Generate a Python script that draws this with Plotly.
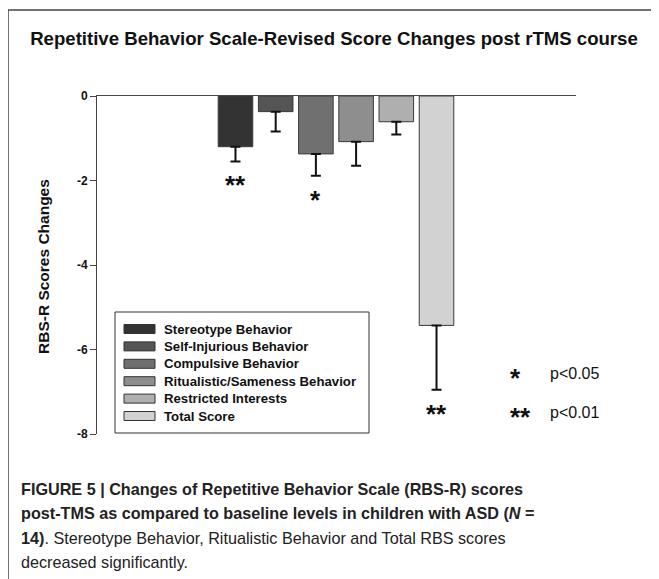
import plotly.graph_objects as go

# ---- data ----
categories = ["Stereotype Behavior", "Self-Injurious Behavior", "Compulsive Behavior",
              "Ritualistic/Sameness Behavior", "Restricted Interests", "Total Score"]
mean_change = [-1.20, -0.37, -1.37, -1.08, -0.61, -5.43]
sem = [0.35, 0.47, 0.52, 0.57, 0.30, 1.52]
significance = ["**", "", "*", "", "", "**"]
colors = ["#333333", "#555555", "#707070", "#8e8e8e", "#afafaf", "#d2d2d2"]
y_ticks = [0, -2, -4, -6, -8]

# page body has an 8px margin; figure placed at (8, 8) in the window
O = 8
W, H = 659 - O, 579 - O
L, R, T, B = 97, 576, 96, 434  # plot area in window pixels

def px(x):
    return (x - L) / (R - L)

def py(y):
    return (B - y) / (B - T)

ARIAL = "Liberation Sans, Arial"

fig = go.Figure()
annotations = []
shapes = []
for i, cat in enumerate(categories):
    fig.add_trace(go.Bar(
        x=[cat], y=[mean_change[i]], name=cat, width=0.86,
        marker=dict(color=colors[i], line=dict(color="#3a3a3a", width=1)),
        error_y=dict(type="data", symmetric=False, array=[0], arrayminus=[sem[i]],
                     color="#111111", thickness=2, width=5),
        showlegend=False,
    ))
    if significance[i]:
        annotations.append(dict(x=cat, y=mean_change[i] - sem[i], xref="x", yref="y",
                                text="<b>" + significance[i] + "</b>", showarrow=False,
                                xanchor="center", yanchor="middle", yshift=-24,
                                font=dict(family=ARIAL, size=26, color="#111111")))

# manual legend box
shapes.append(dict(type="rect", xref="paper", yref="paper",
                   x0=px(115), x1=px(369), y0=py(433), y1=py(312),
                   line=dict(color="#333333", width=1), fillcolor="white", layer="above"))
for i, cat in enumerate(categories):
    yc = 329 + i * 17.4
    shapes.append(dict(type="rect", xref="paper", yref="paper",
                       x0=px(124), x1=px(155), y0=py(yc + 4.5), y1=py(yc - 4.5),
                       line=dict(color="#333333", width=1), fillcolor=colors[i], layer="above"))
    annotations.append(dict(x=px(162), y=py(yc), xref="paper", yref="paper", text="<b>" + cat + "</b>",
                            showarrow=False, xanchor="left", yanchor="middle",
                            font=dict(family=ARIAL, size=13.2, color="#111111")))

# significance key
annotations += [
    dict(x=px(508), y=py(378), xref="paper", yref="paper", text="<b>*</b>", showarrow=False,
         xanchor="left", yanchor="middle", font=dict(family=ARIAL, size=26, color="#111111")),
    dict(x=px(548), y=py(373), xref="paper", yref="paper", text="p<0.05", showarrow=False,
         xanchor="left", yanchor="middle", font=dict(family=ARIAL, size=16, color="#111111")),
    dict(x=px(508), y=py(417), xref="paper", yref="paper", text="<b>**</b>", showarrow=False,
         xanchor="left", yanchor="middle", font=dict(family=ARIAL, size=26, color="#111111")),
    dict(x=px(548), y=py(412), xref="paper", yref="paper", text="p<0.01", showarrow=False,
         xanchor="left", yanchor="middle", font=dict(family=ARIAL, size=16, color="#111111")),
]

# y-axis title
annotations.append(dict(x=px(43), y=py(267), xref="paper", yref="paper",
                        text="<b>RBS-R Scores Changes</b>", textangle=-90, showarrow=False,
                        xanchor="center", yanchor="middle",
                        font=dict(family=ARIAL, size=15.5, color="#111111")))

# caption
caption = [
    "<b>FIGURE 5 | Changes of Repetitive Behavior Scale (RBS-R) scores</b>",
    "<b>post-TMS as compared to baseline levels in children with ASD (<i>N</i> =</b>",
    "<b>14)</b>. Stereotype Behavior, Ritualistic Behavior and Total RBS scores",
    "decreased significantly.",
]
for i, line in enumerate(caption):
    annotations.append(dict(x=px(19), y=py(489 + i * 24.4), xref="paper", yref="paper",
                            text=line, showarrow=False, xanchor="left", yanchor="middle",
                            font=dict(family=ARIAL, size=16.2, color="#222222")))

# outer frame lines
shapes.append(dict(type="line", xref="paper", yref="paper", x0=px(8), x1=px(659),
                   y0=py(10), y1=py(10), line=dict(color="#444444", width=1.5)))
shapes.append(dict(type="line", xref="paper", yref="paper", x0=px(8), x1=px(8),
                   y0=py(10), y1=py(579), line=dict(color="#444444", width=1.5)))

fig.update_layout(
    width=W, height=H, autosize=False,
    margin=dict(l=L - O, r=(W + O) - R, t=T - O, b=(H + O) - B, pad=0),
    paper_bgcolor="white", plot_bgcolor="white",
    barmode="overlay",
    title=dict(text="<b>Repetitive Behavior Scale-Revised Score Changes post rTMS course</b>",
               x=(334 - O) / W, y=1 - (38 - O) / H, xanchor="center", yanchor="middle",
               xref="container", yref="container",
               font=dict(family=ARIAL, size=18.6, color="#111111")),
    xaxis=dict(type="category", range=[-3.444, 8.469], side="top", showline=True,
               linecolor="#444444", linewidth=1, showticklabels=False, ticks="",
               showgrid=False, zeroline=False, fixedrange=True, automargin=False),
    yaxis=dict(range=[-8, 0], tickvals=y_ticks, ticktext=[str(v) for v in y_ticks],
               showline=True, linecolor="#444444", linewidth=1, ticks="outside", ticklen=6,
               tickcolor="#444444", showgrid=False, zeroline=False, automargin=False,
               tickfont=dict(family=ARIAL, size=12, color="#111111", weight="bold")),
    shapes=shapes, annotations=annotations, showlegend=False,
)

fig.write_html("out.html")
